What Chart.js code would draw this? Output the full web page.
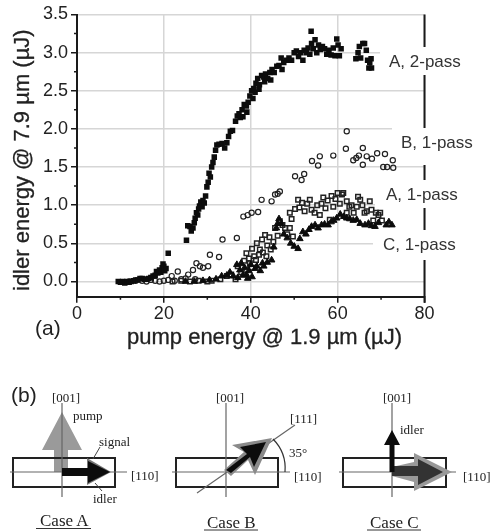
<!DOCTYPE html>
<html>
<head>
<meta charset="utf-8">
<title>Idler energy vs pump energy</title>
<script src="https://cdn.jsdelivr.net/npm/chart.js@4"></script>
<style>
  html, body { margin: 0; padding: 0; background: #fff; }
  #wrap { position: relative; width: 492px; height: 531px; overflow: hidden; filter: blur(0.6px); }
  canvas { position: absolute; left: 0; top: 0; }
  svg { position: absolute; left: 0; top: 0; }
  .sans { font-family: "Liberation Sans", sans-serif; fill: #222; }
  .serif { font-family: "Liberation Serif", serif; font-size: 13px; fill: #222; }
  .case { font-size: 17px; }
</style>
</head>
<body>
<div id="wrap">
  <canvas id="chart" width="492" height="350"></canvas>
  <svg width="492" height="531" viewBox="0 0 492 531">
    <text class="sans" x="127" y="344" font-size="22" stroke="#222" stroke-width="0.3">pump energy @ 1.9 µm (µJ)</text>
    <text class="sans" transform="translate(29,291) rotate(-90)" font-size="22" stroke="#222" stroke-width="0.3">idler energy @ 7.9 µm (µJ)</text>
    <text class="sans" x="35" y="335" font-size="21">(a)</text>
    <text class="sans" x="11" y="402" font-size="21">(b)</text>

    <!-- Case A -->
    <polygon points="62,412 82,450 68,450 68,472 54,472 54,450 42,450" fill="#9a9a9a"/>
    <rect x="13" y="458" width="102" height="29" fill="none" stroke="#222" stroke-width="2"/>
    <path d="M10 472H127M62 403V497" stroke="#666" stroke-width="1.2" fill="none"/>
    <polygon points="87,458 111,472 87,485" fill="#777"/>
    <polygon points="62,468 88,468 88,461 110,472 88,483 88,476 62,476" fill="#0c0c0c"/>
    <path d="M100 447L93 459M95 483L102 491" stroke="#444" fill="none"/>
    <text class="serif" x="52" y="402">[001]</text>
    <text class="serif" x="73" y="420">pump</text>
    <text class="serif" x="99" y="446">signal</text>
    <text class="serif" x="93" y="503">idler</text>
    <text class="serif" x="131" y="480">[110]</text>
    <text class="serif case" x="40" y="526">Case A</text>
    <path d="M36 528.5H91" stroke="#333" fill="none"/>

    <!-- Case B -->
    <rect x="176" y="458" width="102" height="29" fill="none" stroke="#222" stroke-width="2"/>
    <path d="M172 472H290M226 403V497M197 493L295 425" stroke="#666" stroke-width="1.2" fill="none"/>
    <path d="M273 439A42 42 0 0 1 285 472" stroke="#333" stroke-width="1.2" fill="none"/>
    <polygon points="272,438 232,445 244,452 224,470 231,476 248,460 255,475" fill="#8a8a8a"/>
    <polygon points="266,442 240,447 247,454 226,470 231,473 250,457 254,467" fill="#0c0c0c"/>
    <text class="serif" x="216" y="402">[001]</text>
    <text class="serif" x="290" y="423">[111]</text>
    <text class="serif" x="289" y="457">35°</text>
    <text class="serif" x="294" y="481">[110]</text>
    <text class="serif case" x="207" y="528">Case B</text>
    <path d="M204 530H258" stroke="#333" fill="none"/>

    <!-- Case C -->
    <rect x="343" y="458" width="103" height="29" fill="none" stroke="#222" stroke-width="2"/>
    <path d="M339 472H456M392 403V497" stroke="#666" stroke-width="1.2" fill="none"/>
    <polygon points="414,453 452,472 414,491 414,482 392,476 392,467 414,462" fill="#999"/>
    <polygon points="392,466 418,466 418,459 443,472 418,485 418,476 392,476" fill="#333"/>
    <polygon points="392,430 400,445 394.5,445 394.5,472 389.5,472 389.5,445 384,445" fill="#0c0c0c"/>
    <text class="serif" x="400" y="434">idler</text>
    <text class="serif" x="383" y="402">[001]</text>
    <text class="serif" x="463" y="481">[110]</text>
    <text class="serif case" x="370" y="528">Case C</text>
    <path d="M367 530H421" stroke="#333" fill="none"/>
  </svg>
</div>

<script>
// values, [pump, idler]
const a2Pass = [
  [9.5,0],[10,-0.01],[10.5,0],[11,-0.02],[11.5,0],[12,-0.01],[12.5,0],[13,0.01],[13.5,0.02],[14,0.02],
  [14.5,0.04],[15,0.04],[15.5,0.03],[16,0.03],[16.5,0.04],[17,0.05],[17.5,0.07],[18,0.08],[18.3,0.13],[18.6,0.11],
  [19,0.15],[19.3,0.12],[19.6,0.18],[19.8,0.23],[20,0.2],[20.2,0.14],[20.5,0.17],[21,0.37],[25.2,0.54],[25.5,0.73],
  [26,0.72],[26.3,0.66],[26.7,0.7],[27,0.77],[27.2,0.83],[27.5,0.9],[27.8,0.87],[28,0.95],[28.2,0.99],[28.5,1.04],
  [28.8,0.98],[29,1.06],[29.3,1.03],[29.6,1.12],[29.9,1.24],[30.2,1.3],[30.4,1.42],[30.7,1.37],[31,1.5],[31.3,1.56],
  [31.6,1.63],[31.9,1.72],[32.2,1.79],[32.7,1.8],[33.4,1.81],[34,1.75],[34.5,1.82],[34.9,1.9],[35.3,1.97],[35.8,1.98],
  [36.5,2.1],[36.9,2.17],[37.3,2.2],[37.6,2.15],[38,2.25],[38.5,2.32],[39,2.3],[39.4,2.35],[39.8,2.43],[40.2,2.5],
  [38.2,2.16],[39.1,2.22],[40.5,2.4],[41,2.48],[41.9,2.52],[43.2,2.62],[44.6,2.64],
  [40.7,2.53],[41.2,2.6],[41.6,2.66],[42,2.58],[42.5,2.7],[43,2.68],[43.4,2.72],[43.9,2.66],[44.4,2.74],[44.9,2.78],
  [45.4,2.74],[46,2.82],[46.5,2.83],[47,2.93],[47.2,2.78],[47.6,2.87],[48.2,2.9],[48.8,2.93],[49.4,2.9],[50,3],
  [50.5,3.02],[51,2.95],[51.5,3],[52,2.9],[52.3,3.03],[52.8,3],[53.2,3.06],[53.6,2.98],[53.9,3.28],[54,3.12],
  [54.4,3.05],[54.8,3.17],[55.2,3],[55.6,3.1],[56,3.04],[56.5,3.08],[57,3.05],[57.5,2.98],[58,3.03],[58.5,2.97],
  [59,3.06],[59.4,2.96],[59.8,3.18],[60.1,3.1],[60.4,2.96],[60.8,3.05],[64.2,2.92],[64.7,3],[65,3.08],[65.3,2.93],
  [65.8,3.12],[66.2,3.12],[66.6,3.03],[66.9,2.9],[67.2,2.8],[67.4,2.87],[67.7,2.92],[67.8,2.8]
];
const b1Pass = [
  [12,0],[13.5,0.01],[15,0.01],[16,0],[17,0.02],[18,0.01],[19,0],[20,0.01],[21,0.02],[21.8,0.07],
  [22.5,0.01],[23.2,0.13],[24,0.03],[25,0.04],[25.6,0.09],[26.7,0.15],[27.2,0.03],[27.5,0.24],[28.3,0.2],[29,0.18],
  [30.2,0.2],[30.6,0.35],[32.7,0.32],[33.5,0.55],[36.8,0.57],[38.3,0.85],[39.3,0.87],[40.2,0.9],[41.7,0.91],[42.5,1.07],
  [44.8,1.05],[45.6,1.14],[46.2,1.15],[46.7,1.18],[50.2,1.38],[51.7,1.33],[52.3,1.41],[54.1,1.58],[55.5,1.52],[55.9,1.64],
  [59,1.65],[61.9,1.74],[62.1,1.97],[63.6,1.59],[64.3,1.62],[64.9,1.65],[65.8,1.75],[65.8,1.53],[66.7,1.64],[67.9,1.61],
  [69.1,1.68],[70.5,1.5],[70.9,1.67],[71.4,1.5],[72.7,1.59],[72.8,1.49]
];
const a1Pass = [
  [22,0],[24,0.01],[26,0],[28,0.01],[30,0],[31,0.01],[33,0.03],[34.5,0.07],[35.5,0.09],[36.5,0.03],[37,0.2],[37.8,0.12],
  [38.5,0.27],[39,0.37],[39.8,0.24],[38,0.18],[38.9,0.15],[39.6,0.3],[40.2,0.18],[41.2,0.28],[41.9,0.35],[42.8,0.38],[43.6,0.33],[44.6,0.42],
  [40.3,0.43],[40.8,0.33],[41.4,0.5],[42.1,0.42],[42.6,0.55],[43.3,0.61],[43.8,0.47],[44.3,0.58],[45.2,0.52],[45.6,0.7],
  [46.2,0.6],[46.7,0.79],[47.3,0.74],[47.9,0.7],[48.4,0.62],[49,0.7],[49,0.9],[49.4,0.82],[49.7,0.59],[50.2,0.95],
  [50.9,1.07],[51.2,0.97],[51.8,1.03],[52.4,0.92],[53,1.02],[53.6,1.07],[54,0.94],[54.7,0.9],[55.3,1],[55.9,0.87],
  [56.3,1.02],[56.7,1.1],[57.2,0.96],[57.7,1.06],[58.2,0.81],[58.6,1.12],[59,0.98],[59.5,1.08],[60,1.16],[60.5,1.02],
  [61,1.14],[61.3,1.16],[62.1,0.9],[62.1,1.05],[62.7,0.98],[63.2,1],[63.7,0.9],[64.4,0.98],[64.7,1.11],[65.2,1.07],
  [65.7,1],[66.2,0.9],[66.7,0.92],[67.4,1.05],[67.8,0.94],[68.2,0.8],[68.8,0.9],[69.4,0.87],[69.8,0.9],[70.2,0.8]
];
const c1Pass = [
  [25,0],[27,0],[29,0.01],[30.5,0.02],[32,0.03],[33.3,0.07],[34.5,0.08],[35.2,0.12],[36,0.07],[36.8,0.22],[37.5,0.15],
  [37,0.05],[37.8,0.24],[38.2,0.08],[38.6,0.18],[39,0.09],[39.3,0.04],[39.6,0.14],[40,0.22],[40.3,0.06],[41,0.17],[41.4,0.2],[42.2,0.14],[42.7,0.24],[43,0.2],[43.8,0.25],[44.8,0.28],
  [45.3,0.45],[45.9,0.7],[46.2,0.76],[46.5,0.82],[47,0.76],[47.6,0.62],[48.4,0.57],[49.2,0.5],[50,0.46],[50.9,0.43],[51.3,0.56],
  [52,0.65],[52.7,0.62],[53.4,0.68],[54,0.72],[54.8,0.74],[55.5,0.7],[56.3,0.74],[57,0.75],[57.8,0.74],[58.5,0.78],
  [59.1,0.8],[59.8,0.83],[60.6,0.88],[61.4,0.85],[62.1,0.83],[62.8,0.82],[63.6,0.8],[64.4,0.81],[65.2,0.76],[66.3,0.74],
  [67.1,0.76],[67.8,0.73],[68.6,0.72],[69.4,0.77],[71.2,0.74],[71.8,0.78],[72.5,0.74]
];
const xTicks = [0, 20, 40, 60, 80];
const xMinorTicks = [10, 30, 50, 70];
const yTicks = [0, 0.5, 1, 1.5, 2, 2.5, 3, 3.5];
const yMinorTicks = [0.25, 0.75, 1.25, 1.75, 2.25, 2.75, 3.25];
const seriesNames = ['A, 2-pass', 'B, 1-pass', 'A, 1-pass', 'C, 1-pass'];

const dark = '#1a1a1a';

// white patches behind the curve names, they cut the grid and the right axis
const nameBoxes = [
  { left: 380, top: 47, bottom: 75, textX: 389, textY: 62 },
  { left: 392, top: 128, bottom: 165, textX: 401, textY: 143 },
  { left: 375, top: 180, bottom: 208, textX: 386, textY: 195 },
  { left: 373, top: 230, bottom: 260, textX: 383, textY: 245 }
];

const axisExtras = {
  id: 'axisExtras',
  beforeDatasetsDraw(chart) {
    const ctx = chart.ctx;
    const { left, right, top, bottom } = chart.chartArea;
    const xs = chart.scales.x, ys = chart.scales.y;
    ctx.save();
    // right axis
    ctx.strokeStyle = dark;
    ctx.lineWidth = 2;
    ctx.beginPath();
    ctx.moveTo(right, top);
    ctx.lineTo(right, bottom + 6);
    ctx.stroke();
    // minor ticks
    ctx.lineWidth = 1.5;
    ctx.beginPath();
    yMinorTicks.forEach(v => {
      ctx.moveTo(left - 3, ys.getPixelForValue(v));
      ctx.lineTo(left, ys.getPixelForValue(v));
    });
    xMinorTicks.forEach(v => {
      ctx.moveTo(xs.getPixelForValue(v), bottom);
      ctx.lineTo(xs.getPixelForValue(v), bottom + 3);
    });
    ctx.stroke();
    ctx.fillStyle = '#fff';
    nameBoxes.forEach(b => ctx.fillRect(b.left, b.top, 492 - b.left, b.bottom - b.top));
    ctx.restore();
  },
  afterDraw(chart) {
    const ctx = chart.ctx;
    ctx.save();
    ctx.font = '17px "Liberation Sans"';
    ctx.fillStyle = '#333';
    ctx.textBaseline = 'middle';
    nameBoxes.forEach((b, i) => ctx.fillText(seriesNames[i], b.textX, b.textY));
    ctx.restore();
  }
};

function toPoints(list) {
  return list.map(p => ({ x: p[0], y: p[1] }));
}

new Chart(document.getElementById('chart').getContext('2d'), {
  type: 'scatter',
  data: {
    datasets: [
      { label: seriesNames[3], data: toPoints(c1Pass), pointStyle: 'triangle', radius: 3.8, backgroundColor: '#0c0c0c', borderColor: '#0c0c0c', borderWidth: 1 },
      { label: seriesNames[0], data: toPoints(a2Pass), pointStyle: 'rect', radius: 3.9, backgroundColor: '#0c0c0c', borderColor: '#0c0c0c', borderWidth: 0 },
      { label: seriesNames[2], data: toPoints(a1Pass), pointStyle: 'rect', radius: 3.2, backgroundColor: 'rgba(255,255,255,0)', borderColor: '#222', borderWidth: 1.5 },
      { label: seriesNames[1], data: toPoints(b1Pass), pointStyle: 'circle', radius: 2.6, backgroundColor: 'rgba(255,255,255,0)', borderColor: '#222', borderWidth: 1.2 }
    ]
  },
  options: {
    responsive: false,
    animation: false,
    layout: { padding: { left: 0, right: 67.5, top: 14.5, bottom: 0 } },
    plugins: { legend: { display: false }, tooltip: { enabled: false } },
    scales: {
      x: {
        type: 'linear',
        min: 0,
        max: 80,
        afterFit: s => { s.height = 53.3; },
        afterBuildTicks: s => { s.ticks = xTicks.map(v => ({ value: v })); },
        grid: { color: '#d6d6d6', lineWidth: 1.5, tickColor: dark, tickLength: 6 },
        border: { color: dark, width: 2 },
        ticks: { color: '#222', font: { family: 'Liberation Sans', size: 18 }, padding: 1, maxRotation: 0 }
      },
      y: {
        type: 'linear',
        min: -0.2,
        max: 3.5,
        afterFit: s => { s.width = 77; },
        afterBuildTicks: s => { s.ticks = yTicks.map(v => ({ value: v })); },
        grid: { color: '#d6d6d6', lineWidth: 1.5, tickColor: dark, tickLength: 6 },
        border: { color: dark, width: 2 },
        ticks: { color: '#222', font: { family: 'Liberation Sans', size: 18 }, padding: 3, callback: v => v.toFixed(1) }
      }
    }
  },
  plugins: [axisExtras]
});
</script>
</body>
</html>
